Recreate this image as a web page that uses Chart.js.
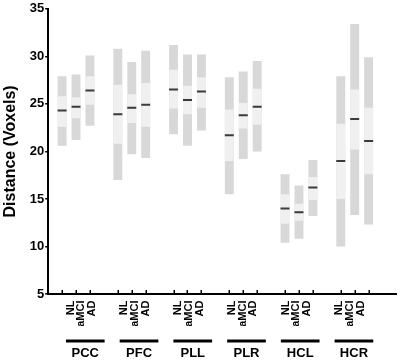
<!DOCTYPE html>
<html>
<head>
<meta charset="utf-8">
<script src="https://cdn.jsdelivr.net/npm/chart.js@4"></script>
<style>
  html, body { margin: 0; padding: 0; background: #fff; }
  #wrap { width: 403px; height: 362px; }
</style>
</head>
<body>
<div id="wrap"><canvas id="c" width="403" height="362"></canvas></div>
<script>
// ---- data ----
const regions = ['PCC', 'PFC', 'PLL', 'PLR', 'HCL', 'HCR'];
const groups = ['NL', 'aMCI', 'AD'];
// order: PCC NL, PCC aMCI, PCC AD, PFC NL, ... HCR AD
const minVals = [20.6, 21.2, 22.7, 17.0, 19.7, 19.3, 21.8, 20.6, 22.2, 15.5, 19.2, 20.0, 10.4, 10.8, 13.2, 10.0, 13.3, 12.3];
const q1Vals  = [22.6, 23.5, 24.9, 20.8, 23.0, 22.6, 24.5, 23.9, 24.6, 19.0, 22.4, 22.8, 12.4, 12.7, 14.9, 15.0, 20.2, 17.6];
const medVals = [24.3, 24.7, 26.4, 23.9, 24.6, 24.9, 26.5, 25.4, 26.3, 21.7, 23.8, 24.7, 14.0, 13.6, 16.2, 19.0, 23.4, 21.1];
const q3Vals  = [25.8, 25.7, 27.9, 27.0, 26.0, 27.2, 28.6, 26.9, 27.8, 24.4, 25.1, 26.6, 15.5, 14.5, 17.3, 22.9, 26.5, 24.6];
const maxVals = [27.9, 28.1, 30.1, 30.8, 29.4, 30.6, 31.2, 30.2, 30.2, 27.8, 28.4, 29.5, 17.6, 16.4, 19.1, 27.9, 33.4, 29.9];
const yTicks = [5, 10, 15, 20, 25, 30, 35];

// ---- slot layout: blank slot, 3 bars, blank slot, ... ----
const slotLabels = [''];
const slotIndex = []; // data index -> slot
regions.forEach((r, g) => {
  groups.forEach((s, k) => { slotIndex.push(slotLabels.length); slotLabels.push(s); });
  slotLabels.push('');
});
slotLabels.push('');

function toSlots(fn) {
  const arr = slotLabels.map(() => null);
  slotIndex.forEach((slot, i) => { arr[slot] = fn(i); });
  return arr;
}

// label axes positions (their own spacing, as in the reference)
const subLabelVals = [], subLabelText = [], groupVals = [];
regions.forEach((r, g) => {
  groups.forEach((s, k) => { subLabelVals.push(g * 5 + k); subLabelText.push(s); });
  groupVals.push(g * 5 + 1.37);
});
const LAB_MIN = -2.085, LAB_MAX = 30.33, GROUP_HALF = 1.8;

const FONT = 'Liberation Sans, Arial, Helvetica, sans-serif';

const decor = {
  id: 'decor',
  afterDraw(chart) {
    const ctx = chart.ctx, xs = chart.scales.x, gs = chart.scales.x3, area = chart.chartArea;
    ctx.save();
    ctx.strokeStyle = '#000';
    ctx.lineWidth = 1.5;
    slotLabels.forEach((lab, i) => {
      if (!lab) return;
      const px = Math.round(xs.getPixelForValue(i)) + 0.25;
      ctx.beginPath();
      ctx.moveTo(px, area.bottom);
      ctx.lineTo(px, area.bottom - 4);
      ctx.stroke();
    });
    ctx.lineWidth = 3.2;
    const y = gs.top + 15;
    groupVals.forEach(v => {
      ctx.beginPath();
      ctx.moveTo(gs.getPixelForValue(v - GROUP_HALF), y);
      ctx.lineTo(gs.getPixelForValue(v + GROUP_HALF), y);
      ctx.stroke();
    });
    ctx.restore();
  }
};

new Chart(document.getElementById('c'), {
  data: {
    labels: slotLabels,
    datasets: [
      {
        type: 'line', label: 'median', order: 0,
        data: toSlots(i => medVals[i]),
        showLine: false, pointStyle: 'line', pointRadius: 4.5, pointHoverRadius: 4.5,
        pointBorderWidth: 2, pointBorderColor: '#3a3a3a', borderColor: '#3a3a3a', backgroundColor: '#3a3a3a'
      },
      {
        type: 'bar', label: 'inner', order: 1, grouped: false,
        data: toSlots(i => [q1Vals[i], q3Vals[i]]),
        backgroundColor: '#f0f0f0', borderWidth: 0,
        barPercentage: 0.64, categoryPercentage: 1
      },
      {
        type: 'bar', label: 'range', order: 2, grouped: false,
        data: toSlots(i => [minVals[i], maxVals[i]]),
        backgroundColor: '#d8d8d8', borderWidth: 0,
        barPercentage: 0.64, categoryPercentage: 1
      }
    ]
  },
  options: {
    responsive: false,
    devicePixelRatio: 1,
    animation: false,
    layout: { padding: { left: 0, right: 0, top: -2, bottom: 2 } },
    plugins: { legend: { display: false }, tooltip: { enabled: false } },
    scales: {
      x: {
        type: 'category', offset: false, weight: 0,
        grid: { display: false, drawTicks: false },
        border: { display: true, color: '#000', width: 2 },
        ticks: { display: false }
      },
      x2: {
        type: 'linear', position: 'bottom', weight: 1, bounds: 'data',
        min: LAB_MIN, max: LAB_MAX,
        afterBuildTicks: (scale) => { scale.ticks = subLabelVals.map(v => ({ value: v })); },
        afterFit: (scale) => { scale.height = 32; },
        grid: { display: false, drawTicks: false },
        border: { display: false },
        ticks: {
          autoSkip: false, minRotation: 90, maxRotation: 90, padding: 6.5,
          color: '#000', font: { family: FONT, size: 11, weight: 'bold' },
          callback: (v, i) => subLabelText[i]
        }
      },
      x3: {
        type: 'linear', position: 'bottom', weight: 2, bounds: 'data',
        min: LAB_MIN, max: LAB_MAX,
        afterBuildTicks: (scale) => { scale.ticks = groupVals.map(v => ({ value: v })); },
        afterFit: (scale) => { scale.height = 34; },
        grid: { display: false, drawTicks: false },
        border: { display: false },
        ticks: {
          autoSkip: false, minRotation: 0, maxRotation: 0, padding: 21.3,
          color: '#000', font: { family: FONT, size: 13, weight: 'bold', lineHeight: 1 },
          callback: (v, i) => regions[i]
        }
      },
      y: {
        type: 'linear', min: yTicks[0], max: yTicks[yTicks.length - 1],
        afterBuildTicks: (scale) => { scale.ticks = yTicks.map(v => ({ value: v })); },
        grid: { display: true, drawOnChartArea: false, drawTicks: true, tickLength: 3, color: '#000', lineWidth: 1.5 },
        border: { display: true, color: '#000', width: 2 },
        ticks: { color: '#000', padding: 1, font: { family: FONT, size: 13, weight: 'bold' } },
        title: {
          display: true, text: 'Distance (Voxels)', color: '#000',
          font: { family: FONT, size: 16, weight: 'bold' },
          padding: { top: 1, bottom: 8.5 }
        }
      }
    }
  },
  plugins: [decor]
});
</script>
</body>
</html>
